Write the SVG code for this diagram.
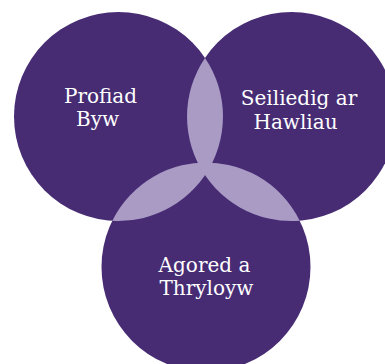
<svg xmlns="http://www.w3.org/2000/svg" width="385" height="364" viewBox="0 0 385 364">
<style>
.c{fill:#472c74}
.o{fill:#a99bc4}
.t{fill:#ffffff;font-family:"DejaVu Serif","Liberation Serif",serif;font-size:20px;text-anchor:middle}
</style>
<rect width="385" height="364" fill="#ffffff"/>
<g id="node-profiad">
<circle class="c" cx="118.5" cy="116.5" r="104.5"/>
<text class="t" x="100.5" y="103">Profiad</text>
<text class="t" x="97.5" y="125.5">Byw</text>
</g>
<g id="node-seiliedig">
<circle class="c" cx="291.5" cy="116.5" r="104.5"/>
<text class="t" x="299" y="105">Seiliedig ar</text>
<text class="t" x="295.5" y="129">Hawliau</text>
</g>
<g id="node-agored">
<circle class="c" cx="206" cy="267" r="104.5"/>
<text class="t" x="204.5" y="272">Agored a</text>
<text class="t" x="206.5" y="295">Thryloyw</text>
</g>
<g id="overlaps">
<path class="o" d="M205 57.9 A104.5 104.5 0 0 1 205 175.1 A104.5 104.5 0 0 1 205 57.9 Z"/>
<path class="o" d="M112.3 220.8 A104.5 104.5 0 0 0 212.2 162.7 A104.5 104.5 0 0 0 112.3 220.8 Z"/>
<path class="o" d="M197.8 162.8 A104.5 104.5 0 0 0 299.7 220.7 A104.5 104.5 0 0 0 197.8 162.8 Z"/>
</g>
</svg>
